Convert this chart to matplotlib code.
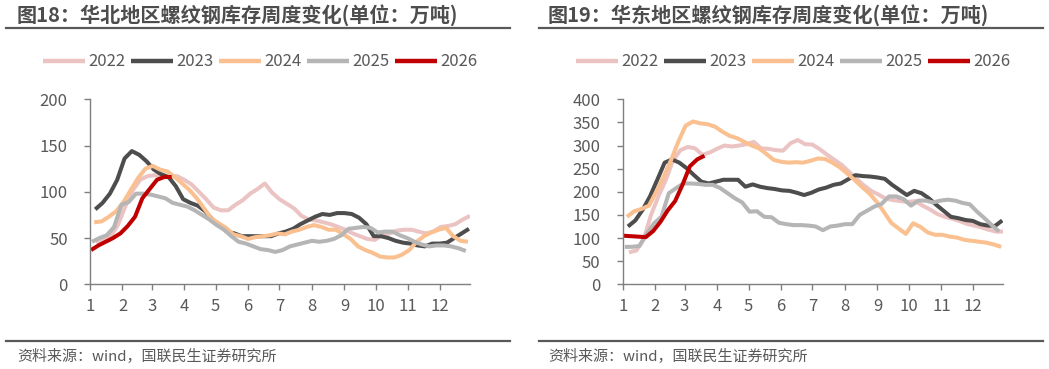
import matplotlib
matplotlib.use("Agg")
import matplotlib.pyplot as plt
from matplotlib.lines import Line2D
import numpy as np
import pandas as pd

plt.rcParams['font.family'] = ['Noto Sans CJK SC', 'DejaVu Sans']

# ---------------- data ----------------
years = ["2022", "2023", "2024", "2025", "2026"]
first_fridays = ["2022-01-07", "2023-01-06", "2024-01-05", "2025-01-03", "2026-01-02"]
colors = ["#ECC3C3", "#4D4D4D", "#FAC090", "#B5B5B5", "#C00000"]
month_labels = ["1", "2", "3", "4", "5", "6", "7", "8", "9", "10", "11", "12"]

north_2022 = [45,48,52,65,85,102,113,117,118,116,116,117,113,108,100,92,83,80,80,86,
              91,98,103,109,99,92,87,82,74,70,69,67,65,62,59,55,52,49,48,53,
              55,58,59,59,57,55,57,62,63,65,70,74]
north_2023 = [81,88,98,113,136,144,140,133,124,119,116,106,92,88,85,79,70,64,57,55,
              52,52,52,52,52,55,57,60,65,69,73,76,75,77,77,76,72,65,52,52,
              50,47,45,44,42,41,44,44,45,50,55,60]
north_2024 = [67,68,73,79,89,102,115,125,128,124,122,116,109,102,93,82,71,66,61,54,
              52,49,51,52,53,55,54,57,59,62,64,62,59,59,54,49,41,37,34,30,
              29,29,32,37,46,52,56,59,61,52,47,46]
north_2025 = [46,50,53,62,86,89,98,98,97,95,93,88,86,84,80,75,70,64,59,52,
              46,44,41,38,37,35,37,41,43,45,47,46,47,49,53,60,61,62,61,56,
              57,57,53,50,46,43,41,42,42,41,39,36]
north_2026 = [37,42,46,50,55,63,73,93,103,113,116,116]

east_2022 = [69,73,97,150,190,225,268,290,297,294,280,285,293,300,298,300,303,308,294,293,
             290,289,305,312,303,302,292,280,269,258,243,228,214,202,194,185,182,180,178,180,
             170,162,152,146,142,137,131,127,123,118,114,114]
east_2023 = [125,138,161,190,226,263,270,263,251,236,222,218,222,226,226,226,211,216,211,208,
             206,203,202,198,193,198,205,209,215,218,227,236,234,233,231,228,215,204,193,202,
             197,186,172,159,146,143,139,137,130,127,126,138]
east_2024 = [146,158,163,170,200,232,268,308,343,352,348,346,341,330,321,316,308,300,294,282,
             269,265,263,264,263,267,272,271,263,253,240,226,211,197,179,157,133,121,109,132,
             124,112,107,107,103,101,96,94,92,90,86,81]
east_2025 = [81,81,83,110,132,146,197,208,218,218,217,215,215,208,197,186,177,157,158,146,
             145,133,130,128,128,127,125,117,125,127,130,130,150,159,168,174,190,190,184,170,
             181,181,177,181,183,181,176,173,157,143,128,114]
east_2026 = [105,104,103,102,115,135,160,180,215,255,270,278]

north = [north_2022, north_2023, north_2024, north_2025, north_2026]
east = [east_2022, east_2023, east_2024, east_2025, east_2026]

titles = ["图18：华北地区螺纹钢库存周度变化(单位：万吨)", "图19：华东地区螺纹钢库存周度变化(单位：万吨)"]
source = "资料来源：wind，国联民生证券研究所"

# ---------------- figure ----------------
W, H = 1049, 369
fig = plt.figure(figsize=(W / 100, H / 100), dpi=100)
txt = "#595959"
axc = "#7F7F7F"

month_ticks = np.asarray(pd.date_range("2023-01-01", periods=12, freq="MS").dayofyear) - 1


def fx(px):
    return px / W


def fy(py):
    return 1 - py / H


panels = [
    dict(data=north, ax_rect=(90, 99.3, 470, 284.3), ylim=(0, 200), yt=np.arange(0, 201, 50),
         panel=(6, 510), title_x=17, legend_cx=260),
    dict(data=east, ax_rect=(622.7, 99.3, 1003.3, 284.3), ylim=(0, 400), yt=np.arange(0, 401, 50),
         panel=(539, 1043), title_x=548, legend_cx=793),
]

for i, p in enumerate(panels):
    l, t, r, b = p["ax_rect"]
    ax = fig.add_axes([fx(l), fy(b), fx(r) - fx(l), fy(t) - fy(b)])
    handles = []
    for yr, ff, c, vals in zip(years, first_fridays, colors, p["data"]):
        d = pd.date_range(ff, periods=len(vals), freq="7D")
        x = np.asarray(d.dayofyear) - 1
        h, = ax.plot(x, vals, color=c, lw=2.9, solid_capstyle="butt", label=yr)
        handles.append(h)
    ax.set_xlim(0, 363)
    ax.set_ylim(*p["ylim"])
    ax.set_yticks(p["yt"])
    ax.set_xticks(month_ticks)
    ax.set_xticklabels(month_labels)
    for s in ["top", "right"]:
        ax.spines[s].set_visible(False)
    for s in ["left", "bottom"]:
        ax.spines[s].set_color(axc)
        ax.spines[s].set_linewidth(1.0)
    ax.tick_params(axis="both", colors=axc, labelcolor=txt, labelsize=12, length=4, width=1.0,
                   direction="out")
    ax.tick_params(axis="x", pad=6)
    ax.tick_params(axis="y", pad=12)

    leg = fig.legend(handles=handles, loc="center", bbox_to_anchor=(fx(p["legend_cx"]), fy(62)),
                     ncol=5, frameon=False, fontsize=12, handlelength=2.5, handletextpad=0.2,
                     columnspacing=0.35, labelcolor=txt)
    for lh in leg.get_lines():
        lh.set_linewidth(3.2)

    # title
    fig.text(fx(p["title_x"]), fy(15), titles[i], fontsize=14.5, fontweight="bold", color="#4D4D4D",
             ha="left", va="center")
    x0, x1 = p["panel"]
    fig.add_artist(Line2D([fx(x0), fx(x1)], [fy(28), fy(28)], color="#595959", lw=1.6))
    fig.add_artist(Line2D([fx(x0), fx(x1)], [fy(341), fy(341)], color="#595959", lw=1.6))
    fig.text(fx(p["title_x"]), fy(357), source, fontsize=10.8, color=txt, ha="left", va="center")

fig.savefig("out.png", dpi=100, facecolor="white")
